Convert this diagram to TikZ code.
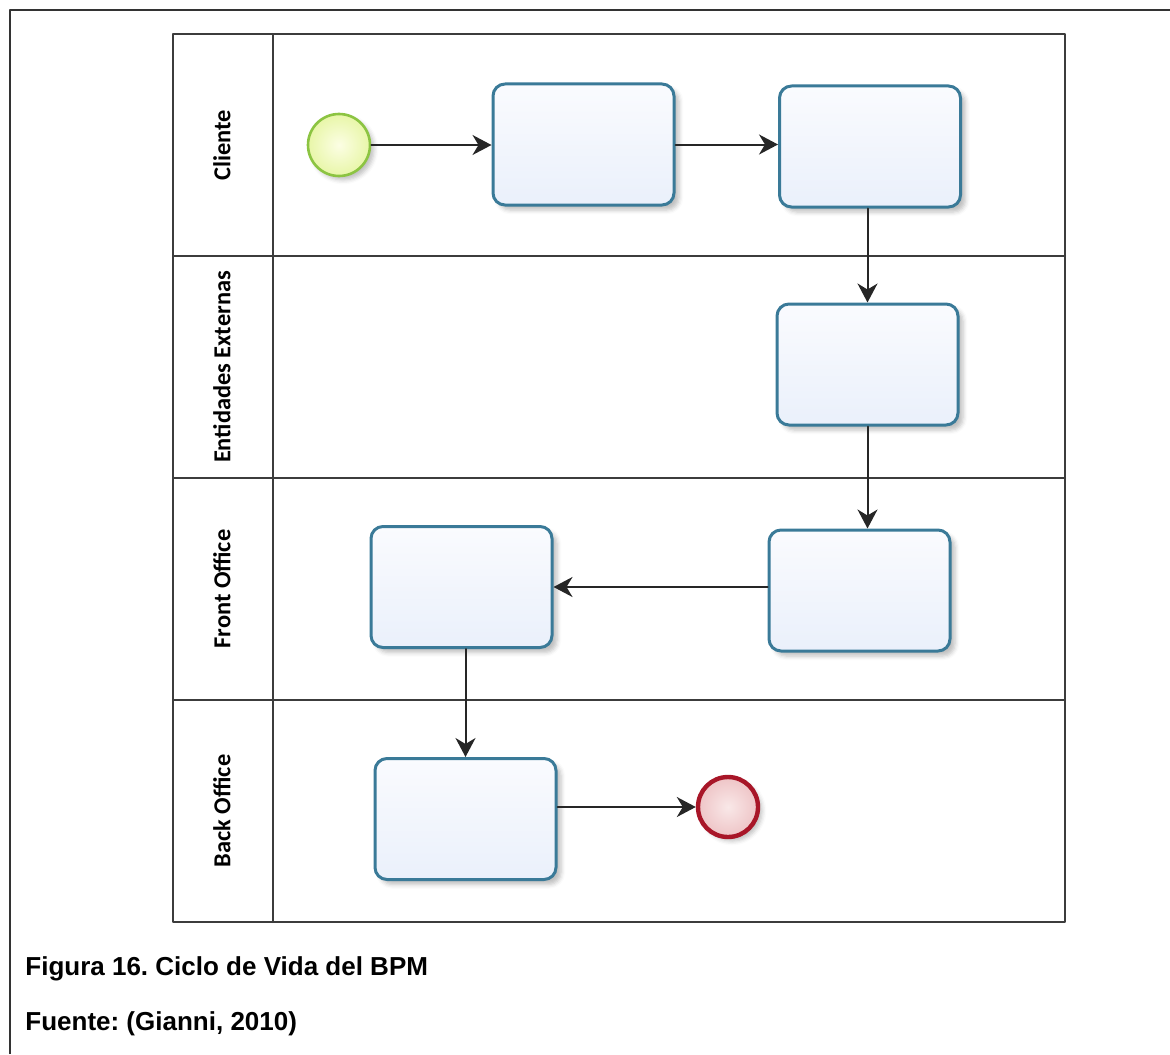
\documentclass[tikz,border=0pt]{standalone}
\usepackage{fontspec}
\setmainfont{Liberation Sans}
\newfontfamily\lanefont{Carlito}
\usetikzlibrary{arrows.meta,shadows.blur}
\frenchspacing

\definecolor{taskline}{RGB}{58,122,152}
\definecolor{tasktop}{RGB}{250,251,254}
\definecolor{taskbot}{RGB}{234,240,251}
\definecolor{startline}{RGB}{140,196,66}
\definecolor{endline}{RGB}{168,22,40}
\definecolor{poolline}{RGB}{60,60,60}

\begin{document}
\begin{tikzpicture}[x=0.5pt, y=-0.5pt, line cap=round, line join=round,
  task/.style={draw=taskline, line width=1.5pt, rounded corners=6pt,
    top color=tasktop, bottom color=taskbot,
    minimum width=90.5pt, minimum height=60.5pt, inner sep=0pt,
    blur shadow={shadow xshift=2.5pt, shadow yshift=-2.5pt, shadow opacity=25}},
  startev/.style={circle, draw=startline, line width=1.3pt, minimum size=31pt, inner sep=0pt,
    inner color={rgb,255:red,252;green,254;blue,228}, outer color={rgb,255:red,232;green,246;blue,168},
    blur shadow={shadow xshift=2pt, shadow yshift=-2pt, shadow opacity=25}},
  endev/.style={circle, draw=endline, line width=2.2pt, minimum size=30pt, inner sep=0pt,
    inner color={rgb,255:red,249;green,232;blue,232}, outer color={rgb,255:red,238;green,196;blue,198},
    blur shadow={shadow xshift=2pt, shadow yshift=-2pt, shadow opacity=25}},
  flow/.style={draw=black!85, line width=1pt, -{Stealth[length=9.5pt,width=10pt,inset=3pt]}},
  lanelabel/.style={rotate=90, font=\lanefont\bfseries\fontsize{12.2}{14}\selectfont, inner sep=0pt},
  caption/.style={anchor=base west, inner sep=0pt, font=\bfseries\fontsize{13}{15}\selectfont}]

  %% ════ 外框（底边开口）════
  \draw[line width=1pt, black!80, line cap=butt] (10,1054) -- (10,10) -- (1170,10);

  %% ════ 泳池与泳道 ════
  \draw[poolline, line width=1pt, line cap=butt] (173,34) rectangle (1065,922);
  \draw[poolline, line width=1pt] (273,34) -- (273,922);
  \foreach \yy in {256,478,700}
    \draw[poolline, line width=1pt] (173,\yy) -- (1065,\yy);

  \node[lanelabel] (lcli) at (222,145) {Cliente};
  \node[lanelabel] (lext) at (222,367) {Entidades Externas};
  \node[lanelabel] (lfro) at (222,589) {Front Office};
  \node[lanelabel] (lbac) at (222,811) {Back Office};

  %% ════ 事件与任务 ════
  \node[startev] (inicio) at (339,145) {};
  \node[task] (t1) at (583.5,144.5) {};
  \node[task] (t2) at (870,146.5) {};
  \node[task] (t3) at (867.5,364.5) {};
  \node[task] (t4) at (859.5,590.5) {};
  \node[task] (t5) at (461.5,587) {};
  \node[task] (t6) at (465.5,819) {};
  \node[endev] (fin) at (728,807) {};

  %% ════ 顺序流 ════
  \draw[flow] (inicio.east) -- (inicio.east -| t1.west);
  \draw[flow] (t1.east) -- (t1.east -| t2.west);
  \draw[flow] (t3.north |- t2.south) -- (t3.north);
  \draw[flow] (t3.south) -- (t3.south |- t4.north);
  \draw[flow] (t4.west |- t5.east) -- (t5.east);
  \draw[flow] (t6.north |- t5.south) -- (t6.north);
  \draw[flow] (t6.east |- fin.west) -- (fin.west);

  %% ════ 图题 ════
  \node[caption] (titulo) at (25,975) {Figura 16. Ciclo de Vida del BPM};
  \node[caption] (fuente) at (25,1030) {Fuente: (Gianni, 2010)};

  % 固定画布大小
  \pgfresetboundingbox
  \path[use as bounding box] (0,0) rectangle (1170,1054);
\end{tikzpicture}
\end{document}
